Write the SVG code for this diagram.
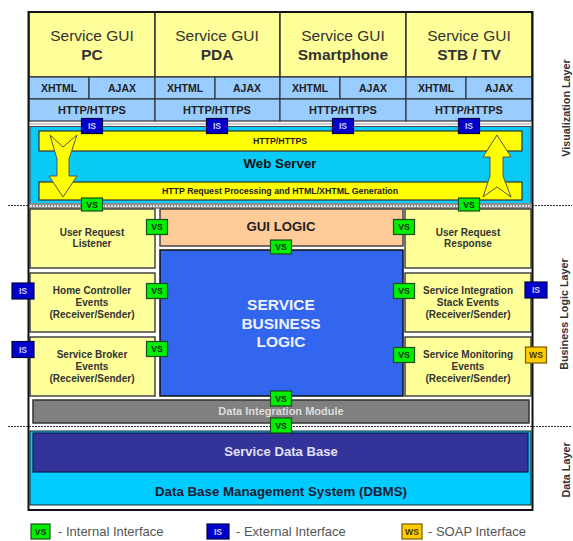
<svg xmlns="http://www.w3.org/2000/svg" width="573" height="541" viewBox="0 0 573 541">
  <defs>
    <style>
      text { font-family: "Liberation Sans", Arial, sans-serif; }
      .c { text-anchor: middle; }
      .b { font-weight: bold; }
      .gui { fill: #ffff99; stroke: #333; stroke-width: 1.5; }
      .proto { fill: #99ccff; stroke: #333; stroke-width: 1.2; }
      .t1 { font-size: 15.5px; fill: #333; }
      .t2 { font-size: 10.5px; font-weight: bold; fill: #222; }
      .t3 { font-size: 11px; font-weight: bold; fill: #222; }
      .bar { fill: #ffff00; stroke: #333; stroke-width: 1.2; }
      .arrow { fill: #ffff00; stroke: #555; stroke-width: 1; }
      .box { fill: #ffff99; stroke: #444; stroke-width: 1.5; }
      .bt { font-size: 10px; font-weight: bold; fill: #333; text-anchor: middle; }
      .badge rect { stroke-width: 1.2; }
      .badge text { font-size: 8.6px; font-weight: bold; text-anchor: middle; }
      .vs rect { fill: #00ee00; stroke: #1d4d1d; }
      .vs text { fill: #0c2a0c; }
      .is rect { fill: #0000cc; stroke: #000044; }
      .is text { fill: #d0d0ff; }
      .ws rect { fill: #ffcc00; stroke: #7a5a00; }
      .ws text { fill: #4a3300; }
      .layer { font-size: 10.8px; font-weight: bold; fill: #333; text-anchor: middle; }
      .dots { stroke: #333; stroke-width: 1.2; stroke-dasharray: 2 1; fill: none; }
      .legend { font-size: 13px; fill: #555; }
    </style>
  </defs>

  <rect width="573" height="541" fill="#ffffff"/>

  <!-- Visualization layer: GUI columns -->
  <g id="gui-pc">
    <rect class="gui" x="29" y="12" width="126" height="65"/>
    <rect class="proto" x="29" y="77" width="60" height="22"/>
    <rect class="proto" x="89" y="77" width="66" height="22"/>
    <rect class="proto" x="29" y="99" width="126" height="22"/>
    <text class="t1 c" x="92" y="41">Service GUI</text>
    <text class="t1 c b" x="92" y="60">PC</text>
    <text class="t2 c" x="59" y="92">XHTML</text>
    <text class="t2 c" x="122" y="92">AJAX</text>
    <text class="t3 c" x="92" y="114">HTTP/HTTPS</text>
  </g>
  <g id="gui-pda">
    <rect class="gui" x="155" y="12" width="125" height="65"/>
    <rect class="proto" x="155" y="77" width="60" height="22"/>
    <rect class="proto" x="215" y="77" width="65" height="22"/>
    <rect class="proto" x="155" y="99" width="125" height="22"/>
    <text class="t1 c" x="217" y="41">Service GUI</text>
    <text class="t1 c b" x="217" y="60">PDA</text>
    <text class="t2 c" x="185" y="92">XHTML</text>
    <text class="t2 c" x="247" y="92">AJAX</text>
    <text class="t3 c" x="217" y="114">HTTP/HTTPS</text>
  </g>
  <g id="gui-smartphone">
    <rect class="gui" x="280" y="12" width="126" height="65"/>
    <rect class="proto" x="280" y="77" width="60" height="22"/>
    <rect class="proto" x="340" y="77" width="66" height="22"/>
    <rect class="proto" x="280" y="99" width="126" height="22"/>
    <text class="t1 c" x="343" y="41">Service GUI</text>
    <text class="t1 c b" x="343" y="60">Smartphone</text>
    <text class="t2 c" x="310" y="92">XHTML</text>
    <text class="t2 c" x="373" y="92">AJAX</text>
    <text class="t3 c" x="343" y="114">HTTP/HTTPS</text>
  </g>
  <g id="gui-stb">
    <rect class="gui" x="406" y="12" width="126" height="65"/>
    <rect class="proto" x="406" y="77" width="60" height="22"/>
    <rect class="proto" x="466" y="77" width="66" height="22"/>
    <rect class="proto" x="406" y="99" width="126" height="22"/>
    <text class="t1 c" x="469" y="41">Service GUI</text>
    <text class="t1 c b" x="469" y="60">STB / TV</text>
    <text class="t2 c" x="436" y="92">XHTML</text>
    <text class="t2 c" x="499" y="92">AJAX</text>
    <text class="t3 c" x="469" y="114">HTTP/HTTPS</text>
  </g>

  <!-- Web server -->
  <g id="web-server">
    <line x1="30" y1="124" x2="531" y2="124" stroke="#999" stroke-width="1"/>
    <rect x="30" y="126.5" width="501" height="77" fill="#0acaf6" stroke="#444" stroke-width="1"/>
    <rect class="bar" x="39" y="131" width="483" height="20"/>
    <text class="c b" x="280" y="144.2" font-size="8.8" fill="#222">HTTP/HTTPS</text>
    <text class="c b" x="280" y="168" font-size="13.3" fill="#111">Web Server</text>
    <rect class="bar" x="39" y="182" width="483" height="18"/>
    <text class="c b" x="280" y="194.2" font-size="8.8" fill="#222">HTTP Request Processing and HTML/XHTML Generation</text>
  </g>

  <!-- Connectors: request / response flow through the web server, layer separators -->
  <g id="connectors">
    <polygon class="arrow" points="50,135 63,147 77,135 69,159 69,176 77,176 63,197 49,176 57,176 57,159"/>
    <polygon class="arrow" points="497,135 511,157 503,157 503,176 511,197 497,187 483,197 490,176 490,157 483,157"/>
    <rect x="30" y="203" width="501" height="6" fill="#8c8c8c"/>
    <line x1="30" y1="206" x2="531" y2="206" stroke="#f4f4f4" stroke-width="1.4" stroke-dasharray="2 1"/>
    <line class="dots" x1="8" y1="205.5" x2="29" y2="205.5"/>
    <line class="dots" x1="532" y1="205.5" x2="572" y2="205.5"/>
    <line class="dots" x1="8" y1="426.5" x2="572" y2="426.5"/>
  </g>

  <!-- Business logic layer -->
  <g id="user-request-listener">
    <rect class="box" x="30" y="209" width="125" height="59"/>
    <text class="bt" x="92" y="235.5">User Request</text>
    <text class="bt" x="92" y="247">Listener</text>
  </g>
  <g id="home-controller-events">
    <rect class="box" x="30" y="273" width="125" height="59"/>
    <text class="bt" x="92" y="293.5">Home Controller</text>
    <text class="bt" x="92" y="305.5">Events</text>
    <text class="bt" x="92" y="317.5">(Receiver/Sender)</text>
  </g>
  <g id="service-broker-events">
    <rect class="box" x="30" y="337" width="125" height="59"/>
    <text class="bt" x="92" y="357.5">Service Broker</text>
    <text class="bt" x="92" y="369.5">Events</text>
    <text class="bt" x="92" y="381.5">(Receiver/Sender)</text>
  </g>
  <g id="gui-logic">
    <rect x="160" y="209" width="243" height="37" fill="#ffcc99" stroke="#444" stroke-width="1.5"/>
    <text class="c b" x="281" y="231" font-size="13.2" fill="#222">GUI LOGIC</text>
  </g>
  <g id="service-business-logic">
    <rect x="160" y="250" width="243" height="146" fill="#3366ee" stroke="#111" stroke-width="1.5"/>
    <text class="c b" x="281" y="309.5" font-size="15.5" fill="#eef2ff">SERVICE</text>
    <text class="c b" x="281" y="328.5" font-size="15.5" fill="#eef2ff">BUSINESS</text>
    <text class="c b" x="281" y="346.5" font-size="15.5" fill="#eef2ff">LOGIC</text>
  </g>
  <g id="user-request-response">
    <rect class="box" x="405" y="209" width="126" height="59"/>
    <text class="bt" x="468" y="235.5">User Request</text>
    <text class="bt" x="468" y="247">Response</text>
  </g>
  <g id="service-integration-stack-events">
    <rect class="box" x="405" y="273" width="126" height="59" stroke="#bbb"/>
    <text class="bt" x="468" y="293.5">Service Integration</text>
    <text class="bt" x="468" y="305.5">Stack Events</text>
    <text class="bt" x="468" y="317.5">(Receiver/Sender)</text>
  </g>
  <g id="service-monitoring-events">
    <rect class="box" x="405" y="337" width="126" height="59"/>
    <text class="bt" x="468" y="357.5">Service Monitoring</text>
    <text class="bt" x="468" y="369.5">Events</text>
    <text class="bt" x="468" y="381.5">(Receiver/Sender)</text>
  </g>
  <g id="data-integration-module">
    <rect x="33" y="400" width="496" height="23" fill="#808080" stroke="#333" stroke-width="1.5"/>
    <text class="c b" x="281" y="415" font-size="11" fill="#dddddd">Data Integration Module</text>
  </g>

  <!-- Data layer -->
  <g id="dbms">
    <rect x="30" y="431" width="501" height="74" fill="#00ccff" stroke="#222" stroke-width="1"/>
    <text class="c b" x="281" y="495.5" font-size="13.3" fill="#1a1a33">Data Base Management System (DBMS)</text>
  </g>
  <g id="service-data-base">
    <rect x="33" y="433" width="495" height="39" fill="#333399" stroke="#1a1a4d" stroke-width="1.2"/>
    <text class="c b" x="281" y="456" font-size="13.1" fill="#e0e0f4">Service Data Base</text>
  </g>

  <!-- Outer frame -->
  <rect x="28.5" y="12" width="504" height="498" fill="none" stroke="#111" stroke-width="2"/>

  <!-- Interface badges -->
  <g id="interfaces">
    <g class="badge is" transform="translate(92,126)"><rect x="-10.5" y="-7.5" width="21" height="15"/><text y="3">IS</text></g>
    <g class="badge is" transform="translate(217,126)"><rect x="-10.5" y="-7.5" width="21" height="15"/><text y="3">IS</text></g>
    <g class="badge is" transform="translate(343,126)"><rect x="-10.5" y="-7.5" width="21" height="15"/><text y="3">IS</text></g>
    <g class="badge is" transform="translate(469,126)"><rect x="-10.5" y="-7.5" width="21" height="15"/><text y="3">IS</text></g>
    <g class="badge vs" transform="translate(92,204.5)"><rect x="-10.5" y="-6.5" width="21" height="13"/><text y="3">VS</text></g>
    <g class="badge vs" transform="translate(469,204.5)"><rect x="-10.5" y="-6.5" width="21" height="13"/><text y="3">VS</text></g>
    <g class="badge vs" transform="translate(157,227)"><rect x="-10.5" y="-7.5" width="21" height="15"/><text y="3">VS</text></g>
    <g class="badge vs" transform="translate(157,291)"><rect x="-10.5" y="-7.5" width="21" height="15"/><text y="3">VS</text></g>
    <g class="badge vs" transform="translate(157,349)"><rect x="-10.5" y="-7.5" width="21" height="15"/><text y="3">VS</text></g>
    <g class="badge vs" transform="translate(404,227)"><rect x="-10.5" y="-7.5" width="21" height="15"/><text y="3">VS</text></g>
    <g class="badge vs" transform="translate(404,291)"><rect x="-10.5" y="-7.5" width="21" height="15"/><text y="3">VS</text></g>
    <g class="badge vs" transform="translate(404,355)"><rect x="-10.5" y="-7.5" width="21" height="15"/><text y="3">VS</text></g>
    <g class="badge vs" transform="translate(281,247)"><rect x="-10.5" y="-7" width="21" height="14"/><text y="3">VS</text></g>
    <g class="badge vs" transform="translate(281,398.5)"><rect x="-10.5" y="-7.5" width="21" height="15"/><text y="3">VS</text></g>
    <g class="badge vs" transform="translate(281,425.5)"><rect x="-10.5" y="-7.5" width="21" height="15"/><text y="3">VS</text></g>
    <g class="badge is" transform="translate(23,291)"><rect x="-11" y="-8" width="22" height="16"/><text y="3">IS</text></g>
    <g class="badge is" transform="translate(23,349.5)"><rect x="-11" y="-8" width="22" height="16"/><text y="3">IS</text></g>
    <g class="badge is" transform="translate(536,290)"><rect x="-11" y="-8" width="22" height="16"/><text y="3">IS</text></g>
    <g class="badge ws" transform="translate(536,355)"><rect x="-10.5" y="-8" width="21" height="16"/><text y="3">WS</text></g>
  </g>

  <!-- Layer labels -->
  <g id="layer-labels">
    <text class="layer" transform="translate(570,108) rotate(-90)">Visualization Layer</text>
    <text class="layer" transform="translate(568,314) rotate(-90)">Business Logic Layer</text>
    <text class="layer" transform="translate(570,470) rotate(-90)">Data Layer</text>
  </g>

  <!-- Legend -->
  <g id="legend">
    <g class="badge vs" transform="translate(40.5,531.5)"><rect x="-9.5" y="-7.5" width="19" height="15"/><text y="3">VS</text></g>
    <text class="legend" x="58" y="536">- Internal Interface</text>
    <g class="badge is" transform="translate(218,531.5)"><rect x="-11" y="-7.5" width="22" height="15"/><text y="3">IS</text></g>
    <text class="legend" x="236" y="536">- External Interface</text>
    <g class="badge ws" transform="translate(412,531.5)"><rect x="-10" y="-7.5" width="20" height="15"/><text y="3">WS</text></g>
    <text class="legend" x="428" y="536">- SOAP Interface</text>
  </g>
</svg>
